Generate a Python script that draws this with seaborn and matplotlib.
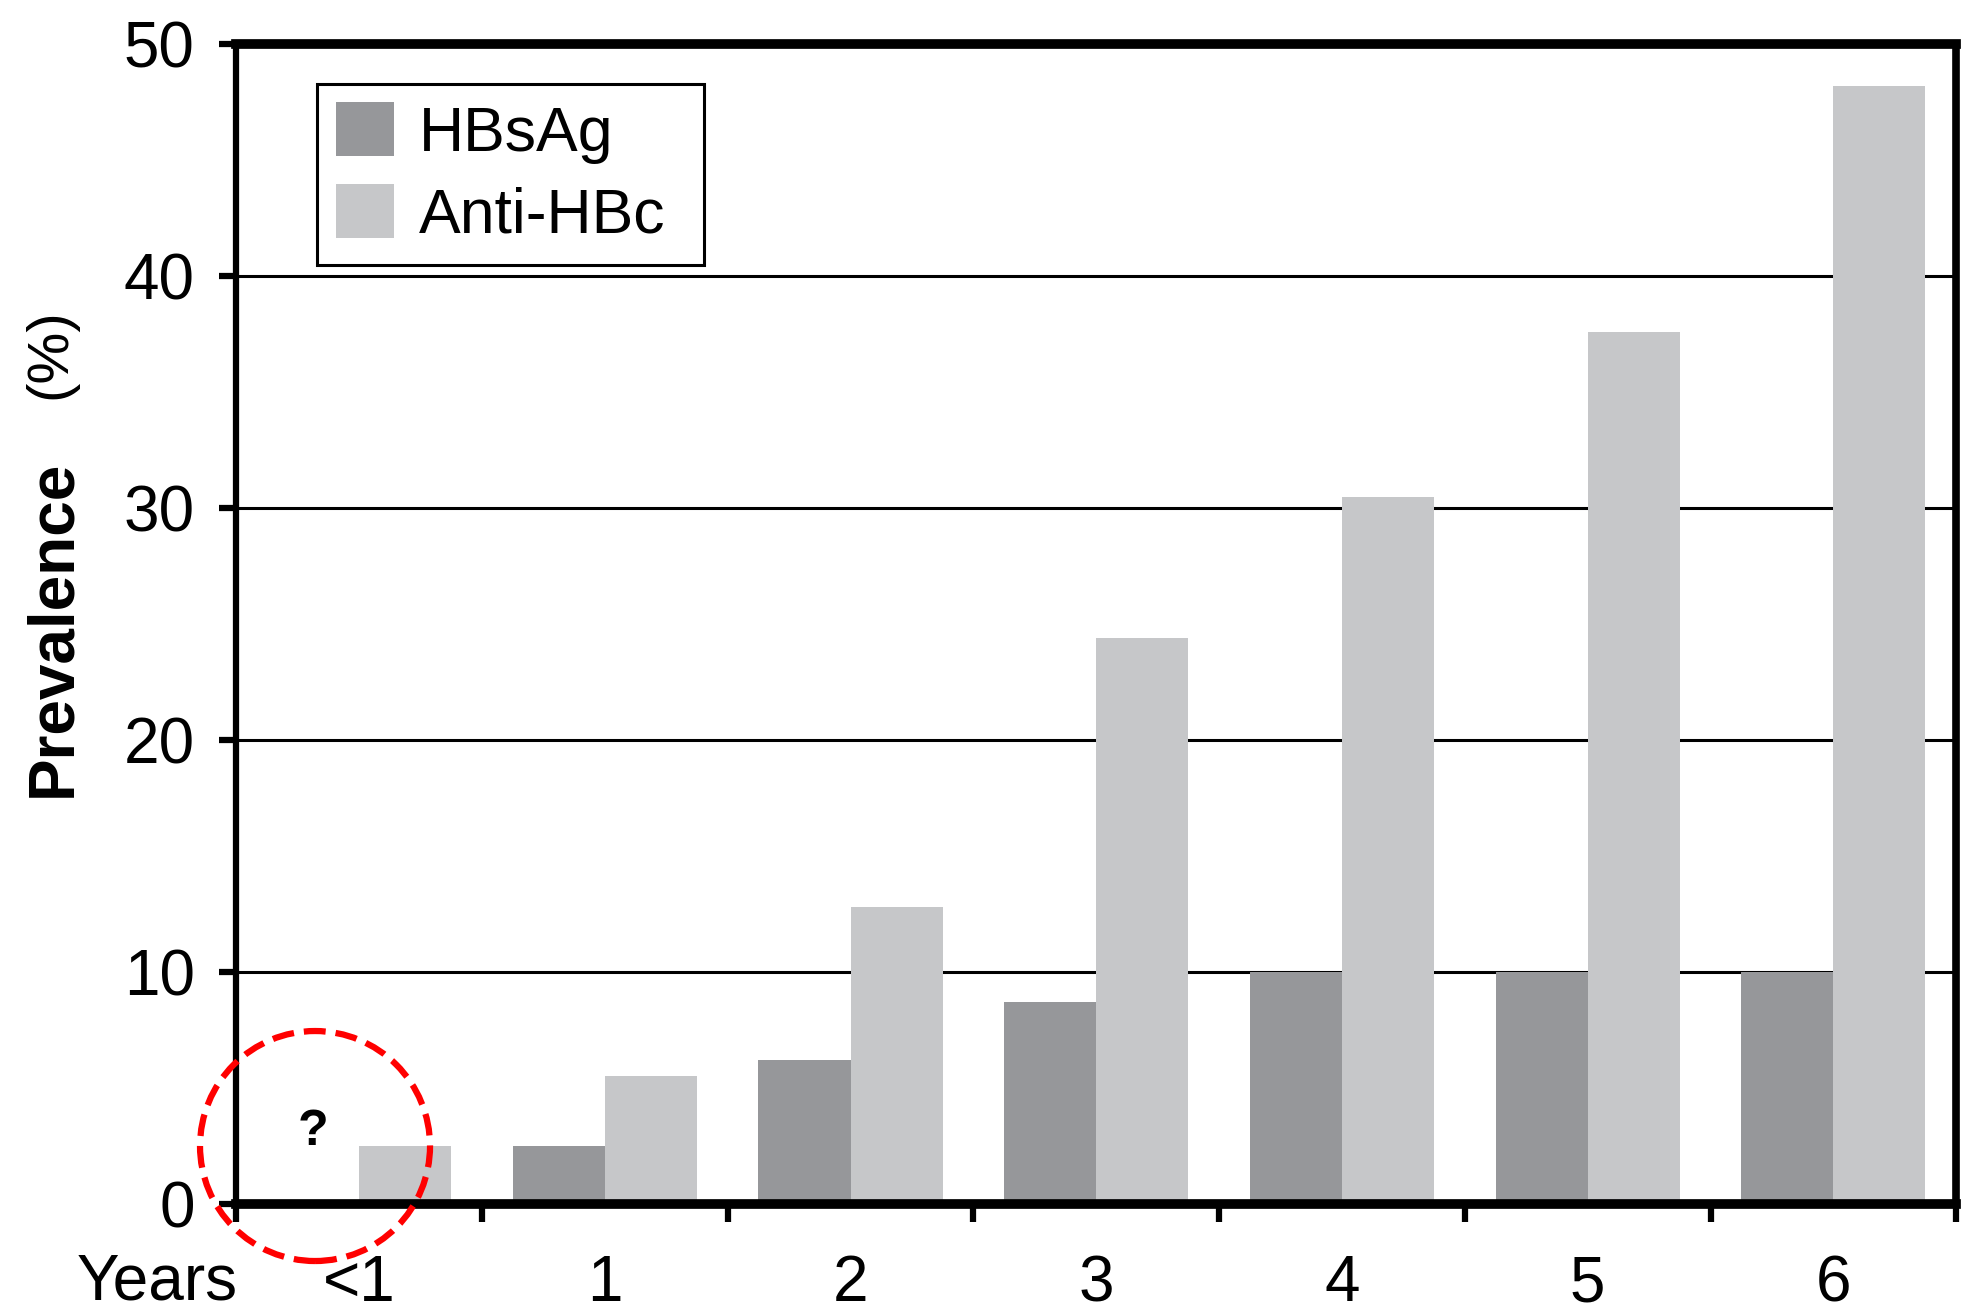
import numpy as np
import pandas as pd
import matplotlib
matplotlib.use("Agg")
import matplotlib.pyplot as plt
import matplotlib.patches as mpatches
import matplotlib.transforms as mtransforms
import seaborn as sns

# Data (HBsAg for <1 year unknown)
years = ['<1', '1', '2', '3', '4', '5', '6']
hbsag = [np.nan, 2.5, 6.2, 8.7, 10.0, 10.0, 10.0]
anti_hbc = [2.5, 5.5, 12.8, 24.4, 30.5, 37.6, 48.2]
markers = ['HBsAg', 'Anti-HBc']
palette = {'HBsAg': '#96979a', 'Anti-HBc': '#c6c7c9'}

df = pd.DataFrame({
    'Years': years * 2,
    'Marker': ['HBsAg'] * len(years) + ['Anti-HBc'] * len(years),
    'Prevalence': hbsag + anti_hbc,
})

sns.set_style('white')
plt.rcParams['font.family'] = ['Liberation Sans', 'DejaVu Sans']
plt.rcParams['text.color'] = 'black'

fig = plt.figure(figsize=(19.7, 13.15), dpi=100)
ax = fig.add_axes([0.12, 0.0844, 0.873, 0.882])

sns.barplot(data=df, x='Years', y='Prevalence', hue='Marker', order=years,
            hue_order=markers, palette=palette, width=0.75, gap=0,
            errorbar=None, saturation=1, linewidth=0, ax=ax, zorder=2)

ax.set_xlim(-0.5, 6.5)
ax.set_ylim(0, 50)
ax.set_yticks(range(0, 51, 10))
ax.yaxis.grid(True, color='black', linewidth=2.2)
ax.set_axisbelow(True)

# spines
for side, lw in [('top', 7), ('bottom', 7), ('left', 4.5), ('right', 5.5)]:
    ax.spines[side].set_visible(True)
    ax.spines[side].set_color('black')
    ax.spines[side].set_linewidth(lw)

# y ticks
ax.tick_params(axis='y', which='major', left=True, length=12, width=4.5,
               pad=18, labelsize=46, colors='black')

# x: labels at centres, tick marks at category boundaries
ax.set_xticks(range(len(years)))
ax.set_xticklabels(years)
ax.set_xticks(np.arange(-0.5, len(years), 1.0), minor=True)
ax.tick_params(axis='x', which='major', bottom=True, length=0, pad=36,
               labelsize=46, colors='black')
ax.tick_params(axis='x', which='minor', bottom=True, length=13, width=4.5,
               color='black')

ax.set_xlabel('')
ax.set_ylabel('')

fig.text(0.0269, 0.5224, 'Prevalence', rotation=90, fontsize=46,
         fontweight='bold', ha='center', va='center')
fig.text(0.0254, 0.7308, '(%)', rotation=90, fontsize=42,
         ha='center', va='center')
fig.text(0.0797, 0.025, 'Years', fontsize=46, ha='center', va='center')

# legend
handles = [mpatches.Patch(facecolor=palette[m], edgecolor='none', label=m)
           for m in markers]
leg = ax.legend(handles=handles, loc='upper left', mode='expand',
                bbox_to_anchor=(0.047, 0.766, 0.2249, 0.2), borderaxespad=0,
                fontsize=45, frameon=True, fancybox=False, shadow=False,
                handlelength=0.93, handleheight=0.95, handletextpad=0.4,
                labelspacing=0.33, borderpad=0.3, labelcolor='black')
leg.get_frame().set_edgecolor('black')
leg.get_frame().set_linewidth(2.2)
leg.get_frame().set_alpha(1)

# question mark and dashed red circle over the missing <1 HBsAg bar
ax.text(-0.19, 3.1, '?', fontsize=36, fontweight='bold', ha='center',
        va='center', color='black', zorder=5)
trans = fig.dpi_scale_trans + mtransforms.ScaledTranslation(-0.18, 2.5, ax.transData)
circle = mpatches.Circle((0, 0), 1.15, transform=trans, fill=False,
                         edgecolor='#ff0000', linewidth=4.5,
                         linestyle=(0, (3.5, 1.6)), clip_on=False, zorder=6)
fig.add_artist(circle)

fig.savefig('out.png', dpi=100, facecolor='white')
